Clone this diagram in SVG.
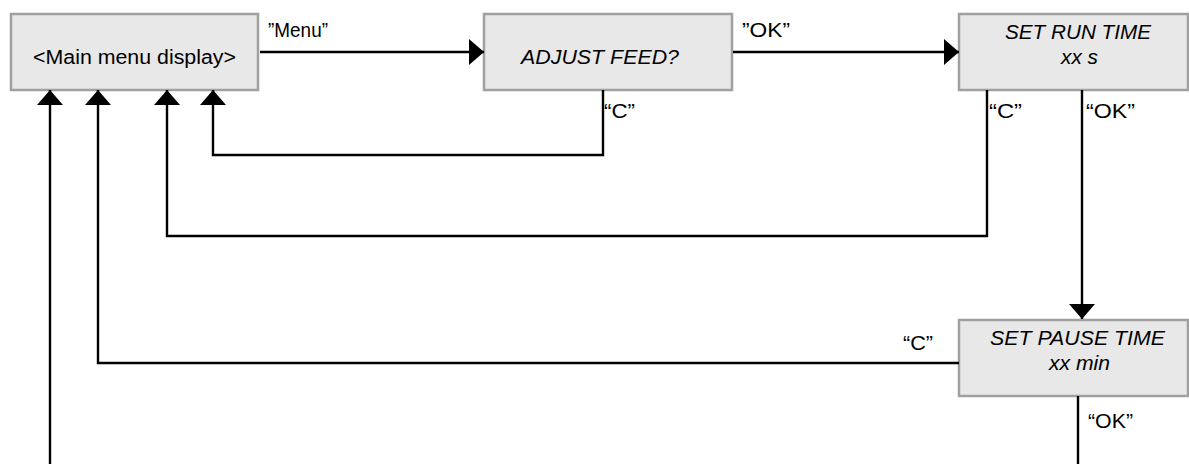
<svg xmlns="http://www.w3.org/2000/svg" width="1189" height="464" viewBox="0 0 1189 464">
<style>
.box{fill:#e8e8e8;stroke:#a0a0a0;stroke-width:2.5}
.ln{fill:none;stroke:#000;stroke-width:2.4}
.t{font-family:"Liberation Sans",Arial,sans-serif;font-size:19.5px;fill:#000}
.i{font-style:italic}
</style>
<defs>
<marker id="ah" markerUnits="userSpaceOnUse" markerWidth="16" markerHeight="26" refX="15" refY="13" orient="auto" viewBox="0 0 16 26">
<path d="M0,0 L15,13 L0,26 Z" fill="#000"/>
</marker>
</defs>
<rect width="1189" height="464" fill="#fff"/>
<g id="main">
<rect class="box" x="11" y="14" width="247" height="76"/>
<text class="t" x="33" y="64" textLength="203" lengthAdjust="spacingAndGlyphs">&lt;Main menu display&gt;</text>
</g>
<g id="adjust">
<rect class="box" x="484" y="14" width="248" height="76"/>
<text class="t i" x="521" y="64" textLength="158" lengthAdjust="spacingAndGlyphs">ADJUST FEED?</text>
</g>
<g id="runtime">
<rect class="box" x="959" y="14" width="229" height="76"/>
<text class="t i" x="1005" y="39" textLength="146" lengthAdjust="spacingAndGlyphs">SET RUN TIME</text>
<text class="t i" x="1061" y="64" textLength="37" lengthAdjust="spacingAndGlyphs">xx s</text>
</g>
<g id="pausetime">
<rect class="box" x="959" y="320" width="229" height="76"/>
<text class="t i" x="990" y="345" textLength="175" lengthAdjust="spacingAndGlyphs">SET PAUSE TIME</text>
<text class="t i" x="1049" y="370" textLength="61" lengthAdjust="spacingAndGlyphs">xx min</text>
</g>
<g id="connectors">
<path class="ln" d="M260,52 H484" marker-end="url(#ah)"/>
<path class="ln" d="M733,52 H959" marker-end="url(#ah)"/>
<path class="ln" d="M603,90 V155 H213 V90" marker-end="url(#ah)"/>
<path class="ln" d="M987,90 V236 H167 V90" marker-end="url(#ah)"/>
<path class="ln" d="M1082,90 V319" marker-end="url(#ah)"/>
<path class="ln" d="M959,363 H98 V90" marker-end="url(#ah)"/>
<path class="ln" d="M1078,396 V470 H50 V90" marker-end="url(#ah)"/>
</g>
<g id="labels">
<text class="t" x="268" y="37" textLength="60" lengthAdjust="spacingAndGlyphs">”Menu”</text>
<text class="t" x="742" y="37" textLength="48" lengthAdjust="spacingAndGlyphs">”OK”</text>
<text class="t" x="604" y="118" textLength="31" lengthAdjust="spacingAndGlyphs">“C”</text>
<text class="t" x="989" y="118" textLength="33" lengthAdjust="spacingAndGlyphs">“C”</text>
<text class="t" x="1086" y="118" textLength="49" lengthAdjust="spacingAndGlyphs">“OK”</text>
<text class="t" x="903" y="350" textLength="30" lengthAdjust="spacingAndGlyphs">“C”</text>
<text class="t" x="1088" y="428" textLength="45" lengthAdjust="spacingAndGlyphs">“OK”</text>
</g>
</svg>
